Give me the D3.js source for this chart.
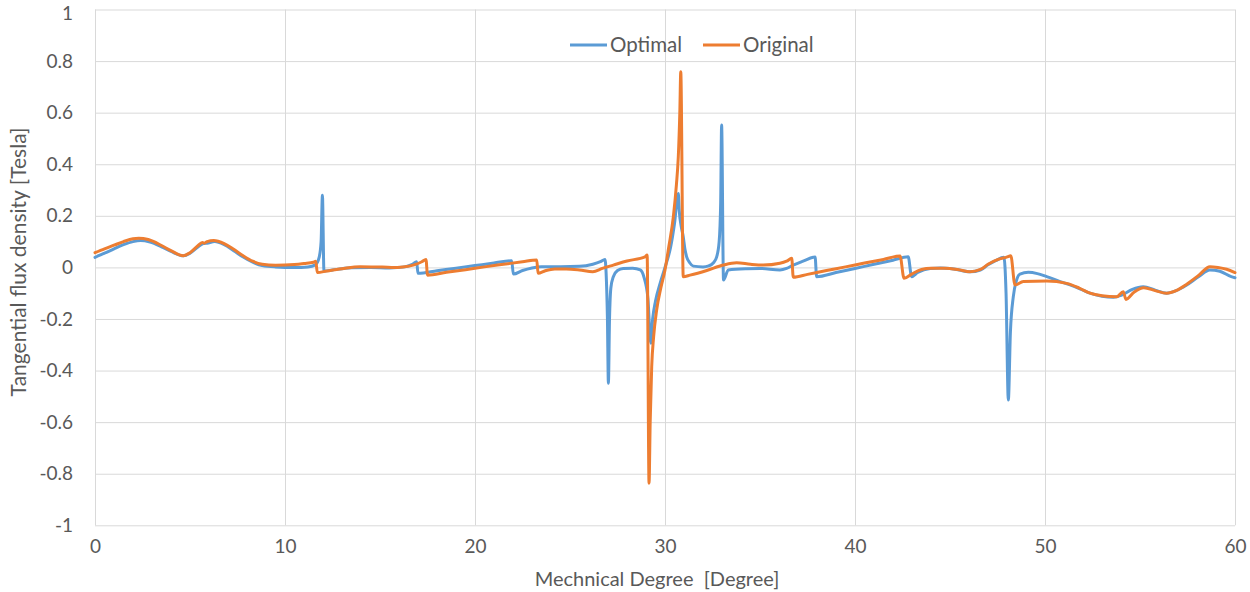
<!DOCTYPE html>
<html>
<head>
<meta charset="utf-8">
<script src="https://cdn.jsdelivr.net/npm/d3@7"></script>
<style>
  html, body { margin: 0; padding: 0; background: #fff; }
  svg { display: block; }
  text { font-family: Lato, "Open Sans", sans-serif; fill: #595959; }
</style>
</head>
<body>
<svg id="chart" width="1250" height="592"></svg>
<script>
// Tangential flux density along the air gap, two rotor designs
const optimalDeg = [0, 0.5, 1.0, 1.5, 2.0, 2.4, 2.9, 3.5, 4.0, 4.65, 5.0, 5.4, 5.7, 5.9, 6.3, 6.8, 7.3, 7.8, 8.3, 8.8, 9.5, 10.5, 11.2, 11.6, 11.8, 11.9, 11.97, 12.05,
  12.5, 13.0, 13.5, 14.5, 15.5, 16.3, 16.7, 16.93, 17.0, 18.0, 19.0, 20.0, 21.0, 21.93, 22.02, 22.5, 23.0, 23.5, 24.5, 25.5, 26.2, 26.6, 26.84,
  26.9, 26.97, 27.02, 27.08, 27.15, 27.28, 27.5, 27.8, 28.3, 28.7, 28.9, 29.1, 29.25, 29.35, 29.5, 29.75, 30.0, 30.3, 30.5, 30.7,
  30.75, 30.85, 30.96, 31.05, 31.14, 31.3, 31.49, 32.0, 32.3, 32.55, 32.72, 32.85, 32.93, 32.98, 33.08, 33.33, 34.3, 35.0, 36.05, 36.4, 36.75,
  37.3, 37.8, 37.9, 37.98, 39.0, 40.0, 41.0, 42.0, 42.8, 42.98, 43.3, 43.95, 44.5, 45.2, 46.05, 46.6, 47.0, 47.4, 47.84, 47.95, 48.07, 48.18,
  48.33, 48.5, 48.68, 49.12, 49.6, 50.09, 50.7, 51.32, 51.9, 52.37, 53.0, 53.6, 54.04, 54.6, 55.17, 55.8, 56.4, 56.9, 57.46, 58.1, 58.68, 59.2, 59.8, 60];
const optimalVal = [0.039, 0.055, 0.072, 0.088, 0.100, 0.104, 0.098, 0.080, 0.062, 0.045, 0.055, 0.078, 0.092, 0.094, 0.100, 0.088, 0.065, 0.040, 0.020, 0.007, 0.002, 0.000, 0.002, 0.010, 0.040, 0.100, 0.280, -0.014,
  -0.010, -0.005, -0.001, 0.000, -0.002, 0.002, 0.012, 0.022, -0.023, -0.013, -0.003, 0.007, 0.017, 0.026, -0.026, -0.012, -0.002, 0.003, 0.003, 0.004, 0.012, 0.022, 0.031,
  -0.020, -0.200, -0.449, -0.200, -0.080, -0.036, -0.012, -0.004, -0.003, -0.010, -0.040, -0.120, -0.294, -0.200, -0.130, -0.060, 0.000, 0.080, 0.170, 0.287,
  0.220, 0.160, 0.119, 0.070, 0.041, 0.018, 0.005, 0.002, 0.006, 0.018, 0.041, 0.100, 0.250, 0.552, -0.049, -0.010, -0.005, -0.004, -0.010, -0.004, 0.009,
  0.025, 0.039, 0.040, -0.036, -0.020, -0.004, 0.012, 0.028, 0.041, -0.036, -0.020, -0.004, -0.002, -0.006, -0.017, -0.010, 0.010, 0.026, 0.039, -0.100, -0.514, -0.250,
  -0.114, -0.050, -0.026, -0.019, -0.024, -0.036, -0.052, -0.068, -0.085, -0.100, -0.112, -0.116, -0.107, -0.085, -0.075, -0.088, -0.100, -0.090, -0.068, -0.035, -0.010, -0.015, -0.036, -0.040];

const originalDeg = [0, 0.5, 1.0, 1.5, 2.0, 2.3, 2.8, 3.5, 4.0, 4.65, 5.0, 5.4, 5.65, 5.75, 5.9, 6.25, 6.8, 7.3, 7.8, 8.3, 8.8, 9.5, 10.5, 11.0, 11.5, 11.62, 11.7,
  12.2, 13.0, 13.95, 14.8, 15.6, 16.2, 16.8, 17.2, 17.42, 17.5, 18.5, 19.5, 20.5, 21.5, 22.5, 23.25, 23.32, 23.7, 24.2, 24.8, 25.5, 26.2, 26.7, 27.28, 28.0,
  28.95, 29.06, 29.16, 29.22, 29.3, 29.4, 29.56, 29.78, 30.0, 30.2, 30.44, 30.6, 30.7, 30.78, 30.83, 30.96, 31.32, 32.2, 33.07, 33.77, 34.5, 35.17, 36.05,
  36.4, 36.67, 36.75, 37.5, 38.5, 39.5, 40.5, 41.5, 42.37, 42.58, 43.0, 43.5, 44.0, 44.7, 45.4, 46.05, 46.6, 47.0, 47.5, 47.98, 48.2, 48.42, 48.86,
  50.09, 51.14, 51.8, 52.37, 53.0, 53.77, 54.12, 54.26, 54.7, 55.2, 55.8, 56.4, 56.9, 57.46, 58.1, 58.68, 59.1, 59.56, 60];
const originalVal = [0.057, 0.072, 0.086, 0.100, 0.111, 0.113, 0.108, 0.085, 0.065, 0.045, 0.057, 0.083, 0.097, 0.094, 0.100, 0.104, 0.092, 0.070, 0.045, 0.024, 0.012, 0.008, 0.011, 0.015, 0.020, 0.024, -0.020,
  -0.014, -0.005, 0.003, 0.002, 0.000, 0.002, 0.010, 0.022, 0.031, -0.030, -0.019, -0.009, 0.002, 0.012, 0.022, 0.029, -0.023, -0.013, -0.006, -0.006, -0.010, -0.017, -0.004, 0.009, 0.025,
  0.041, 0.048, -0.837, -0.600, -0.385, -0.270, -0.165, -0.080, -0.010, 0.080, 0.197, 0.320, 0.429, 0.600, 0.759, -0.036, -0.030, -0.012, 0.009, 0.018, 0.012, 0.009, 0.016,
  0.024, 0.035, -0.038, -0.027, -0.012, 0.002, 0.017, 0.031, 0.044, -0.042, -0.025, -0.008, -0.003, -0.003, -0.008, -0.017, -0.008, 0.012, 0.030, 0.040, 0.045, -0.068, -0.055,
  -0.053, -0.062, -0.080, -0.100, -0.110, -0.114, -0.094, -0.124, -0.095, -0.079, -0.090, -0.100, -0.090, -0.065, -0.030, 0.003, 0.000, -0.007, -0.020];

const xTicks = [0, 10, 20, 30, 40, 50, 60];
const yTicks = [-1, -0.8, -0.6, -0.4, -0.2, 0, 0.2, 0.4, 0.6, 0.8, 1];

const seriesNames = ["Optimal", "Original"];
const seriesColors = ["#5B9BD5", "#ED7D31"];

const svg = d3.select("#chart");
const plot = { left: 95, right: 1235, top: 9.5, bottom: 525.3 };

const x = d3.scaleLinear().domain([0, 60]).range([plot.left, plot.right]);
const y = d3.scaleLinear().domain([-1, 1]).range([plot.bottom, plot.top]);

const fmt = d => String(+d.toFixed(1));

// vertical grid + x tick labels
const xAxis = svg.append("g")
  .attr("transform", `translate(0,${plot.bottom})`)
  .call(d3.axisBottom(x).tickValues(xTicks).tickSize(-(plot.bottom - plot.top)).tickPadding(14).tickFormat(fmt));
xAxis.select(".domain").remove();
xAxis.selectAll("line").attr("stroke", "#d9d9d9").attr("stroke-width", 1);
xAxis.selectAll("text").attr("font-size", 19).attr("fill", "#595959");

// horizontal grid + y tick labels
const yAxis = svg.append("g")
  .attr("transform", `translate(${plot.left},0)`)
  .call(d3.axisLeft(y).tickValues(yTicks).tickSize(-(plot.right - plot.left)).tickPadding(22).tickFormat(fmt));
yAxis.select(".domain").remove();
yAxis.selectAll("line").attr("stroke", "#d9d9d9").attr("stroke-width", 1);
yAxis.selectAll("text").attr("font-size", 19).attr("fill", "#595959");
// keep the top label inside the canvas
yAxis.selectAll(".tick").filter(d => d === 1).select("text").attr("dy", "0.55em");

// curves
const line = d3.line()
  .x(d => x(d[0]))
  .y(d => y(d[1]))
  .curve(d3.curveMonotoneX);

const series = [
  d3.zip(optimalDeg, optimalVal),
  d3.zip(originalDeg, originalVal)
];

series.forEach((pts, i) => {
  svg.append("path")
    .datum(pts)
    .attr("d", line)
    .attr("fill", "none")
    .attr("stroke", seriesColors[i])
    .attr("stroke-width", 3)
    .attr("stroke-linejoin", "round")
    .attr("stroke-linecap", "round");
});

// legend
const legendItems = [
  { x1: 570, x2: 607, tx: 610 },
  { x1: 703, x2: 740, tx: 743 }
];
legendItems.forEach((it, i) => {
  svg.append("line")
    .attr("x1", it.x1).attr("x2", it.x2)
    .attr("y1", 45).attr("y2", 45)
    .attr("stroke", seriesColors[i]).attr("stroke-width", 3);
  svg.append("text")
    .attr("x", it.tx).attr("y", 45)
    .attr("dy", "0.35em")
    .attr("font-size", 20.5)
    .text(seriesNames[i]);
});

// axis titles
svg.append("text")
  .attr("x", 657)
  .attr("y", 586)
  .attr("text-anchor", "middle")
  .attr("font-size", 20)
  .style("white-space", "pre")
  .text("Mechnical Degree  [Degree]");

svg.append("text")
  .attr("transform", `translate(26,262) rotate(-90)`)
  .attr("text-anchor", "middle")
  .attr("font-size", 21)
  .text("Tangential flux density [Tesla]");
</script>
</body>
</html>
